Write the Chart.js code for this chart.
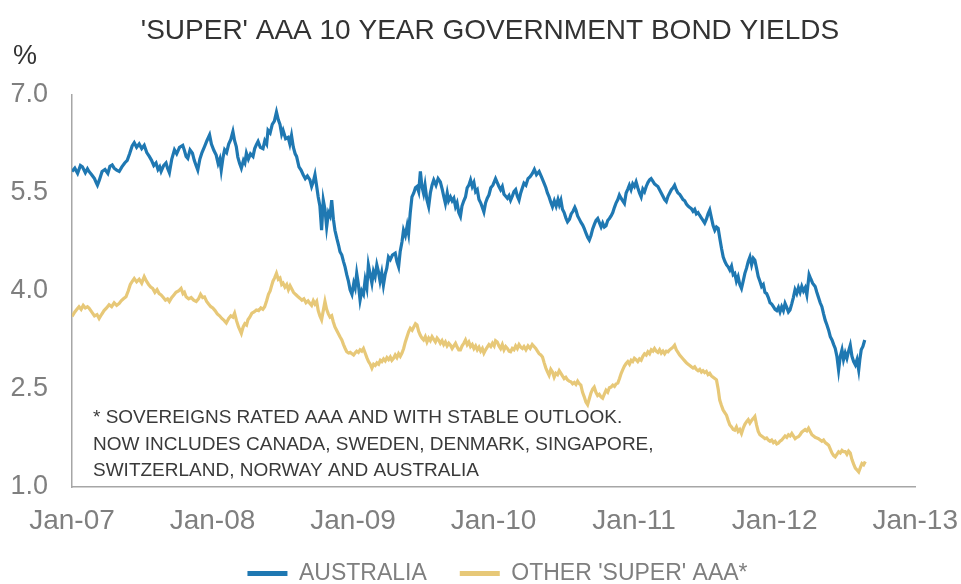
<!DOCTYPE html>
<html><head><meta charset="utf-8">
<script src="https://cdn.jsdelivr.net/npm/chart.js@4.4.0/dist/chart.umd.min.js"></script>
<style>html,body{margin:0;padding:0;background:#fff;}#wrap{width:961px;height:584px;}</style>
</head><body><div id="wrap"><canvas id="c" width="961" height="584"></canvas></div>
<script>
const chartTitle = "'SUPER' AAA 10 YEAR GOVERNMENT BOND YIELDS";
const unitLabel = "%";
const noteLines = [
  "* SOVEREIGNS RATED AAA AND WITH STABLE OUTLOOK.",
  "NOW INCLUDES CANADA, SWEDEN, DENMARK, SINGAPORE,",
  "SWITZERLAND, NORWAY AND AUSTRALIA"
];
const seriesNames = ["AUSTRALIA", "OTHER 'SUPER' AAA*"];
const xTickYears = [2007, 2008, 2009, 2010, 2011, 2012, 2013];
const xTickLabels = ["Jan-07", "Jan-08", "Jan-09", "Jan-10", "Jan-11", "Jan-12", "Jan-13"];
const yTickValues = [1.0, 2.5, 4.0, 5.5, 7.0];

// AUSTRALIA: dates (decimal years) and yields (%)
const ausDates = [
2007.000,2007.020,2007.040,2007.060,2007.074,2007.095,2007.110,2007.121,2007.140,2007.160,2007.172,2007.181,2007.195,2007.214,2007.235,2007.255,2007.270,2007.286,2007.300,2007.318,
2007.336,2007.355,2007.375,2007.393,2007.410,2007.428,2007.443,2007.460,2007.478,2007.496,2007.514,2007.532,2007.550,2007.566,2007.582,2007.598,2007.612,2007.624,2007.634,2007.652,
2007.669,2007.680,2007.693,2007.710,2007.729,2007.745,2007.765,2007.788,2007.800,2007.812,2007.824,2007.840,2007.857,2007.870,2007.883,2007.895,2007.910,2007.925,2007.943,2007.960,
2007.979,2007.992,2008.010,2008.026,2008.040,2008.052,2008.062,2008.075,2008.086,2008.100,2008.115,2008.130,2008.145,2008.157,2008.169,2008.180,2008.193,2008.205,2008.220,2008.230,
2008.241,2008.255,2008.270,2008.288,2008.300,2008.312,2008.324,2008.340,2008.359,2008.372,2008.385,2008.395,2008.410,2008.425,2008.440,2008.455,2008.468,2008.480,2008.492,2008.502,
2008.520,2008.538,2008.550,2008.562,2008.575,2008.588,2008.598,2008.615,2008.630,2008.645,2008.660,2008.675,2008.693,2008.705,2008.718,2008.729,2008.740,2008.752,2008.764,2008.776,
2008.788,2008.800,2008.812,2008.825,2008.836,2008.848,2008.860,2008.871,2008.885,2008.897,2008.907,2008.920,2008.932,2008.943,2008.955,2008.967,2008.979,2008.992,2009.005,2009.015,
2009.026,2009.038,2009.050,2009.062,2009.074,2009.086,2009.098,2009.109,2009.122,2009.134,2009.145,2009.157,2009.169,2009.180,2009.192,2009.204,2009.216,2009.228,2009.240,2009.252,
2009.265,2009.280,2009.300,2009.312,2009.324,2009.335,2009.348,2009.359,2009.372,2009.385,2009.395,2009.407,2009.419,2009.432,2009.444,2009.455,2009.467,2009.479,2009.490,2009.502,
2009.512,2009.525,2009.538,2009.550,2009.562,2009.574,2009.590,2009.605,2009.621,2009.635,2009.645,2009.657,2009.670,2009.680,2009.693,2009.705,2009.717,2009.729,2009.740,2009.752,
2009.764,2009.775,2009.788,2009.800,2009.812,2009.824,2009.836,2009.848,2009.860,2009.872,2009.884,2009.896,2009.908,2009.920,2009.931,2009.943,2009.955,2009.967,2009.980,2009.995,
2010.014,2010.026,2010.038,2010.050,2010.062,2010.074,2010.086,2010.098,2010.110,2010.121,2010.133,2010.145,2010.157,2010.169,2010.181,2010.193,2010.205,2010.216,2010.230,2010.245,
2010.260,2010.276,2010.290,2010.305,2010.324,2010.340,2010.359,2010.372,2010.383,2010.395,2010.407,2010.419,2010.432,2010.445,2010.458,2010.468,2010.479,2010.490,2010.502,2010.514,
2010.526,2010.540,2010.552,2010.565,2010.578,2010.586,2010.598,2010.610,2010.622,2010.634,2010.646,2010.658,2010.670,2010.681,2010.693,2010.705,2010.717,2010.729,2010.741,2010.752,
2010.765,2010.776,2010.788,2010.800,2010.812,2010.824,2010.836,2010.848,2010.860,2010.872,2010.884,2010.895,2010.907,2010.919,2010.931,2010.943,2010.955,2010.966,2010.978,2010.990,
2011.002,2011.014,2011.026,2011.038,2011.050,2011.062,2011.074,2011.086,2011.098,2011.110,2011.121,2011.133,2011.145,2011.157,2011.169,2011.181,2011.193,2011.205,2011.217,2011.229,
2011.241,2011.253,2011.265,2011.277,2011.288,2011.300,2011.312,2011.324,2011.336,2011.348,2011.360,2011.372,2011.384,2011.396,2011.407,2011.419,2011.431,2011.443,2011.455,2011.466,
2011.478,2011.490,2011.502,2011.514,2011.526,2011.538,2011.550,2011.562,2011.574,2011.586,2011.598,2011.610,2011.622,2011.634,2011.646,2011.658,2011.669,2011.681,2011.693,2011.705,
2011.716,2011.728,2011.740,2011.752,2011.764,2011.776,2011.788,2011.800,2011.812,2011.824,2011.836,2011.848,2011.859,2011.871,2011.883,2011.895,2011.907,2011.919,2011.931,2011.943,
2011.955,2011.967,2011.979,2011.991,2012.003,2012.015,2012.027,2012.038,2012.050,2012.062,2012.074,2012.086,2012.098,2012.109,2012.121,2012.133,2012.145,2012.157,2012.169,2012.181,
2012.193,2012.205,2012.217,2012.229,2012.245,2012.258,2012.270,2012.288,2012.300,2012.312,2012.324,2012.336,2012.348,2012.360,2012.372,2012.384,2012.396,2012.408,2012.420,2012.431,
2012.443,2012.455,2012.467,2012.479,2012.490,2012.502,2012.514,2012.526,2012.538,2012.550,2012.562,2012.574,2012.586,2012.598,2012.606,2012.616,2012.628,2012.641
];
const ausYields = [
5.83,5.88,5.80,5.92,5.90,5.81,5.87,5.83,5.78,5.72,5.66,5.62,5.70,5.83,5.86,5.80,5.91,5.93,5.88,5.85,
5.83,5.90,5.96,6.00,6.10,6.22,6.27,6.20,6.25,6.18,6.23,6.12,6.06,6.00,5.92,5.96,5.86,5.90,5.83,5.92,
5.96,5.88,5.81,6.02,6.16,6.10,6.20,6.23,6.15,6.06,6.03,6.16,6.11,6.00,5.92,5.85,6.02,6.12,6.21,6.30,
6.39,6.25,6.15,6.08,5.95,6.02,5.85,6.05,6.16,6.12,6.25,6.32,6.44,6.30,6.21,6.05,5.95,5.88,6.00,5.96,
6.11,6.02,6.10,6.06,6.18,6.24,6.29,6.20,6.18,6.30,6.25,6.46,6.42,6.55,6.60,6.74,6.62,6.55,6.40,6.46,
6.33,6.35,6.25,6.38,6.20,6.10,6.06,5.90,5.85,5.78,5.72,5.76,5.70,5.60,5.68,5.78,5.62,5.44,5.30,4.93,
5.39,5.25,4.98,5.20,5.15,5.39,5.10,4.93,4.80,4.70,4.60,4.55,4.45,4.37,4.25,4.15,4.02,3.95,4.12,4.05,
4.27,4.10,3.86,4.00,3.95,4.17,4.05,4.40,4.25,4.12,4.30,4.22,4.40,4.30,4.15,4.28,4.09,4.25,4.35,4.52,
4.48,4.55,4.58,4.45,4.37,4.60,4.75,4.93,4.85,5.00,4.88,5.20,5.44,5.50,5.58,5.60,5.52,5.83,5.60,5.49,
5.62,5.40,5.29,5.50,5.62,5.70,5.62,5.72,5.67,5.55,5.45,5.34,5.50,5.38,5.44,5.38,5.42,5.29,5.35,5.20,
5.14,5.30,5.38,5.44,5.58,5.62,5.70,5.60,5.66,5.52,5.55,5.40,5.35,5.28,5.21,5.35,5.42,5.47,5.58,5.62,
5.72,5.66,5.60,5.55,5.60,5.48,5.45,5.42,5.46,5.39,5.45,5.52,5.55,5.45,5.39,5.50,5.58,5.65,5.62,5.72,
5.75,5.80,5.86,5.78,5.83,5.75,5.65,5.58,5.50,5.44,5.36,5.29,5.38,5.30,5.40,5.32,5.39,5.25,5.20,5.12,
5.06,5.10,5.18,5.22,5.28,5.24,5.15,5.10,5.05,5.01,4.95,4.88,4.82,4.78,4.85,4.95,5.02,5.08,5.11,5.05,
4.98,5.04,4.98,5.00,5.08,5.11,5.15,5.20,5.28,5.35,5.40,5.47,5.42,5.38,5.34,5.50,5.56,5.62,5.55,5.64,
5.60,5.67,5.58,5.50,5.44,5.56,5.52,5.60,5.66,5.70,5.72,5.68,5.64,5.62,5.60,5.55,5.50,5.45,5.40,5.37,
5.45,5.50,5.55,5.58,5.62,5.55,5.50,5.48,5.44,5.40,5.38,5.33,5.30,5.28,5.26,5.22,5.25,5.18,5.20,5.16,
5.12,5.08,5.04,5.10,5.18,5.24,5.12,5.00,4.93,4.98,4.96,4.80,4.65,4.52,4.45,4.40,4.37,4.32,4.38,4.25,
4.27,4.15,4.22,4.10,4.04,4.15,4.27,4.35,4.45,4.52,4.40,4.50,4.47,4.35,4.22,4.15,4.07,4.10,3.98,3.96,
3.90,3.82,3.80,3.76,3.72,3.70,3.75,3.68,3.76,3.70,3.81,3.75,3.68,3.71,3.80,3.90,4.02,3.96,4.05,3.98,
4.07,4.00,4.05,3.94,4.25,4.18,4.12,4.07,3.98,3.90,3.82,3.76,3.65,3.55,3.48,3.40,3.30,3.25,3.18,3.12,
3.00,2.79,3.00,3.10,2.95,3.05,2.97,3.08,3.17,3.00,2.92,2.87,2.95,2.79,2.95,3.10,3.15,3.25
];

// OTHER 'SUPER' AAA: dates (decimal years) and yields (%)
const otherDates = [
2007.000,2007.020,2007.035,2007.050,2007.065,2007.080,2007.095,2007.110,2007.121,2007.140,2007.160,2007.178,2007.193,2007.210,2007.228,2007.246,2007.264,2007.282,2007.300,2007.318,
2007.336,2007.350,2007.366,2007.384,2007.400,2007.415,2007.430,2007.443,2007.460,2007.478,2007.496,2007.514,2007.530,2007.545,2007.560,2007.574,2007.590,2007.605,2007.620,2007.634,
2007.650,2007.665,2007.680,2007.693,2007.710,2007.725,2007.740,2007.758,2007.776,2007.790,2007.800,2007.812,2007.830,2007.848,2007.866,2007.884,2007.900,2007.915,2007.930,2007.943,
2007.958,2007.972,2007.988,2008.002,2008.018,2008.034,2008.050,2008.066,2008.082,2008.098,2008.115,2008.130,2008.145,2008.157,2008.170,2008.185,2008.195,2008.205,2008.218,2008.230,
2008.242,2008.252,2008.265,2008.280,2008.296,2008.312,2008.328,2008.344,2008.358,2008.371,2008.385,2008.398,2008.410,2008.419,2008.430,2008.442,2008.455,2008.468,2008.480,2008.492,
2008.502,2008.515,2008.528,2008.540,2008.552,2008.562,2008.576,2008.590,2008.605,2008.621,2008.636,2008.650,2008.665,2008.680,2008.693,2008.705,2008.717,2008.729,2008.741,2008.752,
2008.764,2008.776,2008.788,2008.800,2008.812,2008.824,2008.836,2008.848,2008.859,2008.871,2008.883,2008.895,2008.907,2008.920,2008.932,2008.944,2008.955,2008.968,2008.980,2008.992,
2009.004,2009.014,2009.026,2009.038,2009.050,2009.062,2009.074,2009.086,2009.098,2009.110,2009.122,2009.134,2009.146,2009.158,2009.170,2009.182,2009.194,2009.205,2009.217,2009.229,
2009.241,2009.253,2009.265,2009.276,2009.288,2009.300,2009.312,2009.324,2009.336,2009.348,2009.360,2009.372,2009.384,2009.396,2009.407,2009.420,2009.432,2009.444,2009.455,2009.467,
2009.479,2009.490,2009.502,2009.514,2009.526,2009.538,2009.550,2009.562,2009.574,2009.586,2009.598,2009.609,2009.621,2009.633,2009.645,2009.657,2009.669,2009.681,2009.693,2009.705,
2009.717,2009.729,2009.741,2009.752,2009.764,2009.776,2009.788,2009.800,2009.812,2009.824,2009.836,2009.848,2009.860,2009.872,2009.884,2009.896,2009.908,2009.920,2009.931,2009.943,
2009.955,2009.967,2009.980,2009.992,2010.004,2010.014,2010.026,2010.038,2010.050,2010.062,2010.074,2010.086,2010.098,2010.110,2010.121,2010.133,2010.145,2010.157,2010.169,2010.181,
2010.193,2010.205,2010.216,2010.230,2010.245,2010.260,2010.275,2010.288,2010.300,2010.312,2010.324,2010.336,2010.348,2010.360,2010.372,2010.384,2010.395,2010.407,2010.419,2010.431,
2010.443,2010.455,2010.467,2010.479,2010.490,2010.502,2010.514,2010.526,2010.538,2010.550,2010.562,2010.574,2010.586,2010.598,2010.610,2010.621,2010.633,2010.645,2010.657,2010.669,
2010.681,2010.693,2010.705,2010.716,2010.728,2010.740,2010.752,2010.764,2010.776,2010.788,2010.800,2010.812,2010.824,2010.836,2010.848,2010.860,2010.872,2010.884,2010.896,2010.908,
2010.920,2010.931,2010.943,2010.955,2010.967,2010.979,2010.990,2011.002,2011.014,2011.026,2011.038,2011.050,2011.062,2011.074,2011.086,2011.098,2011.110,2011.122,2011.134,2011.145,
2011.157,2011.169,2011.181,2011.193,2011.205,2011.217,2011.229,2011.241,2011.253,2011.265,2011.277,2011.288,2011.300,2011.312,2011.324,2011.336,2011.348,2011.360,2011.372,2011.384,
2011.396,2011.407,2011.419,2011.431,2011.443,2011.455,2011.467,2011.479,2011.490,2011.502,2011.514,2011.526,2011.538,2011.550,2011.562,2011.574,2011.586,2011.598,2011.609,2011.621,
2011.633,2011.645,2011.657,2011.669,2011.681,2011.693,2011.705,2011.716,2011.728,2011.740,2011.752,2011.764,2011.776,2011.788,2011.800,2011.812,2011.824,2011.836,2011.848,2011.859,
2011.871,2011.883,2011.895,2011.907,2011.919,2011.931,2011.943,2011.955,2011.967,2011.979,2011.991,2012.003,2012.015,2012.026,2012.038,2012.050,2012.062,2012.074,2012.086,2012.098,
2012.110,2012.122,2012.134,2012.146,2012.158,2012.169,2012.181,2012.193,2012.205,2012.217,2012.229,2012.241,2012.253,2012.265,2012.277,2012.288,2012.300,2012.312,2012.324,2012.336,
2012.348,2012.360,2012.372,2012.384,2012.396,2012.408,2012.420,2012.431,2012.443,2012.455,2012.467,2012.479,2012.490,2012.502,2012.514,2012.526,2012.538,2012.550,2012.562,2012.574,
2012.586,2012.598,2012.610,2012.621,2012.633,2012.645
];
const otherYields = [
3.61,3.68,3.72,3.76,3.72,3.78,3.74,3.76,3.74,3.68,3.62,3.64,3.58,3.64,3.70,3.74,3.79,3.76,3.82,3.78,
3.81,3.85,3.88,3.91,4.00,4.10,4.15,4.19,4.14,4.18,4.12,4.22,4.15,4.10,4.06,4.04,3.98,4.02,3.96,3.94,
3.90,3.86,3.88,3.84,3.90,3.94,3.98,4.00,4.04,3.96,3.98,3.91,3.88,3.90,3.86,3.84,3.88,3.95,3.90,3.91,
3.84,3.80,3.76,3.74,3.70,3.65,3.62,3.58,3.55,3.51,3.58,3.62,3.60,3.66,3.55,3.45,3.40,3.35,3.45,3.50,
3.48,3.56,3.60,3.66,3.68,3.71,3.70,3.74,3.72,3.76,3.85,3.95,4.00,4.07,4.15,4.20,4.27,4.18,4.20,4.10,
4.12,4.06,4.10,4.02,4.08,4.04,3.98,3.95,3.92,3.89,3.86,3.88,3.82,3.85,3.81,3.78,3.85,3.80,3.84,3.70,
3.62,3.56,3.70,3.84,3.72,3.65,3.60,3.62,3.53,3.45,3.40,3.35,3.30,3.25,3.18,3.12,3.07,3.05,3.06,3.04,
3.02,3.05,3.08,3.06,3.10,3.08,3.12,3.05,2.98,2.92,2.88,2.82,2.88,2.86,2.90,2.88,2.94,2.92,2.96,2.93,
2.98,2.95,2.99,2.94,2.97,3.02,2.98,3.04,3.00,3.05,3.12,3.22,3.30,3.38,3.43,3.40,3.45,3.50,3.48,3.38,
3.32,3.28,3.25,3.30,3.22,3.28,3.24,3.30,3.26,3.22,3.28,3.25,3.20,3.24,3.18,3.22,3.16,3.20,3.17,3.12,
3.16,3.20,3.14,3.10,3.10,3.16,3.20,3.25,3.18,3.22,3.15,3.18,3.12,3.16,3.10,3.14,3.08,3.12,3.05,3.10,
3.14,3.18,3.15,3.20,3.16,3.24,3.22,3.16,3.12,3.18,3.10,3.15,3.12,3.08,3.07,3.12,3.10,3.16,3.12,3.18,
3.14,3.12,3.15,3.10,3.16,3.12,3.18,3.15,3.12,3.08,3.04,3.02,2.99,2.90,2.82,2.76,2.71,2.80,2.76,2.68,
2.74,2.72,2.78,2.74,2.70,2.66,2.68,2.64,2.62,2.61,2.58,2.60,2.57,2.62,2.58,2.56,2.45,2.38,2.30,2.26,
2.35,2.44,2.50,2.53,2.45,2.40,2.42,2.38,2.36,2.42,2.48,2.45,2.52,2.53,2.56,2.54,2.58,2.59,2.66,2.74,
2.80,2.85,2.89,2.92,2.88,2.94,2.92,2.97,2.95,2.92,2.96,2.94,3.00,3.04,3.02,3.07,3.04,3.10,3.08,3.12,
3.08,3.06,3.10,3.05,3.08,3.04,3.08,3.07,3.10,3.12,3.14,3.17,3.10,3.06,3.02,2.99,2.96,2.93,2.90,2.88,
2.86,2.84,2.82,2.84,2.80,2.78,2.80,2.76,2.78,2.75,2.77,2.72,2.74,2.70,2.68,2.66,2.64,2.50,2.33,2.25,
2.18,2.14,2.10,2.02,1.95,1.92,1.88,1.87,1.92,1.85,1.88,1.82,1.90,1.96,2.00,2.03,1.98,2.02,2.05,2.08,
1.95,1.85,1.80,1.78,1.76,1.74,1.75,1.72,1.70,1.72,1.68,1.70,1.66,1.67,1.70,1.72,1.75,1.78,1.76,1.80,
1.78,1.82,1.78,1.74,1.76,1.77,1.80,1.84,1.86,1.88,1.86,1.90,1.85,1.80,1.78,1.76,1.75,1.74,1.72,1.70,
1.72,1.68,1.66,1.64,1.58,1.52,1.48,1.46,1.50,1.54,1.52,1.56,1.54,1.54,1.50,1.55,1.52,1.42,1.35,1.29,
1.26,1.23,1.30,1.36,1.34,1.39
];

const FONT = '"Liberation Sans", Arial, sans-serif';
const BLUE = '#1f78b2';
const GOLD = '#e7c878';

const toPoints = (xs, ys) => xs.map((x, i) => ({ x: x, y: ys[i] }));

const textPlugin = {
  id: 'texts',
  afterLayout(chart) {
    const lg = chart.legend;
    if (lg) { lg.left += 17; lg.right += 17; lg.top -= 6; lg.bottom -= 6; }
  },
  afterDraw(chart) {
    const ctx = chart.ctx;
    ctx.save();
    ctx.textBaseline = 'middle';
    ctx.fillStyle = '#333333';
    ctx.textAlign = 'center';
    ctx.font = '28px ' + FONT;
    ctx.fillText(chartTitle, 490, 31);
    ctx.textAlign = 'left';
    ctx.font = '27px ' + FONT;
    ctx.fillText(unitLabel, 13, 57);
    ctx.font = '19px ' + FONT;
    ctx.fillStyle = '#3a3a3a';
    const ys = [418, 445, 471];
    noteLines.forEach((t, i) => ctx.fillText(t, 93, ys[i]));
    ctx.restore();
  }
};

new Chart(document.getElementById('c'), {
  type: 'line',
  data: {
    datasets: [
      { label: seriesNames[0], data: toPoints(ausDates, ausYields), borderColor: BLUE, backgroundColor: BLUE, borderWidth: 3.2, pointRadius: 0, tension: 0, fill: false },
      { label: seriesNames[1], data: toPoints(otherDates, otherYields), borderColor: GOLD, backgroundColor: GOLD, borderWidth: 3.2, pointRadius: 0, tension: 0, fill: false }
    ]
  },
  options: {
    responsive: false,
    animation: false,
    layout: { padding: { top: 95, left: 0, right: 0, bottom: -17 } },
    scales: {
      x: {
        type: 'linear', min: 2007, max: 2013,
        afterBuildTicks: s => { s.ticks = xTickYears.map(v => ({ value: v })); },
        afterFit: s => { s.height = 48; },
        ticks: {
          autoSkip: false, maxRotation: 0, padding: 3, color: '#7f7f7f',
          font: { size: 28, family: FONT },
          callback: v => xTickLabels[xTickYears.indexOf(Math.round(v))]
        },
        grid: { display: true, drawOnChartArea: false, drawTicks: true, tickLength: 14, color: 'rgba(0,0,0,0)' },
        border: { display: true, color: '#a6a6a6', width: 1.5 }
      },
      y: {
        type: 'linear', min: 1, max: 7,
        afterBuildTicks: s => { s.ticks = yTickValues.map(v => ({ value: v })); },
        afterFit: s => { s.width = 72; },
        ticks: {
          padding: 16, color: '#7f7f7f',
          font: { size: 27, family: FONT },
          callback: v => Number(v).toFixed(1)
        },
        grid: { display: false },
        border: { display: true, color: '#a6a6a6', width: 1.5 }
      }
    },
    plugins: {
      tooltip: { enabled: false },
      legend: {
        position: 'bottom',
        labels: {
          color: '#7f7f7f', boxWidth: 40, boxHeight: 5, padding: 33,
          font: { size: 23, family: FONT },
          generateLabels: chart => Chart.defaults.plugins.legend.labels.generateLabels(chart).map(l => Object.assign(l, { lineWidth: 0, fillStyle: l.strokeStyle }))
        }
      }
    }
  },
  plugins: [textPlugin]
});
</script></body></html>
